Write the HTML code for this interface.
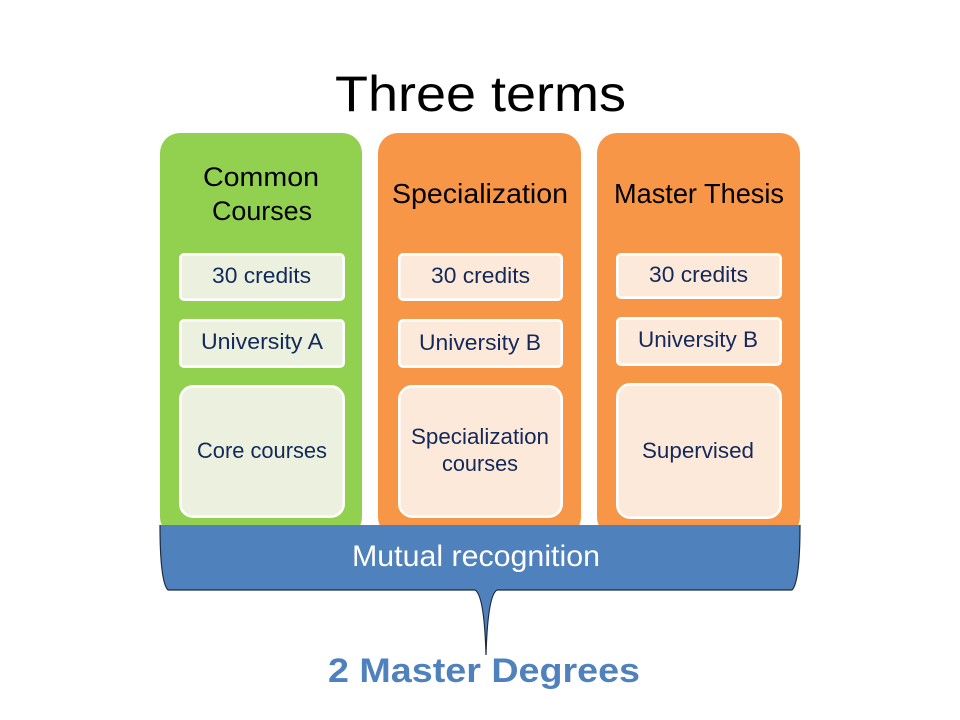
<!DOCTYPE html>
<html>
<head>
<meta charset="utf-8">
<style>
html,body{margin:0;padding:0;background:#fff;}
svg{display:block;}
text{font-family:"Liberation Sans",Arial,sans-serif;}
</style>
</head>
<body>
<svg width="960" height="720" viewBox="0 0 960 720" xmlns="http://www.w3.org/2000/svg">
  <rect x="0" y="0" width="960" height="720" fill="#ffffff"/>

  <!-- Title -->
  <text x="480.5" y="111" font-size="50" text-anchor="middle" fill="#000" textLength="291" lengthAdjust="spacingAndGlyphs">Three terms</text>

  <!-- Columns -->
  <rect x="160" y="133" width="202" height="404" rx="20" ry="20" fill="#92D050"/>
  <rect x="378" y="133" width="203" height="404" rx="20" ry="20" fill="#F79646"/>
  <rect x="597" y="133" width="203" height="404" rx="20" ry="20" fill="#F79646"/>

  <!-- Headers -->
  <text x="261" y="186" font-size="27" text-anchor="middle" fill="#000" textLength="116" lengthAdjust="spacingAndGlyphs">Common</text>
  <text x="262" y="220" font-size="27" text-anchor="middle" fill="#000" textLength="100" lengthAdjust="spacingAndGlyphs">Courses</text>
  <text x="480" y="203" font-size="28" text-anchor="middle" fill="#000" textLength="176" lengthAdjust="spacingAndGlyphs">Specialization</text>
  <text x="699" y="203" font-size="28" text-anchor="middle" fill="#000" textLength="170" lengthAdjust="spacingAndGlyphs">Master Thesis</text>

  <!-- Column 1 inner boxes -->
  <g fill="#EBF1DE" stroke="#ffffff" stroke-width="2.6">
    <rect x="180.3" y="254.3" width="163.4" height="45.4" rx="4"/>
    <rect x="180.3" y="320.3" width="163.4" height="46.4" rx="4"/>
    <rect x="180.3" y="386.3" width="163.4" height="130.4" rx="13"/>
  </g>
  <!-- Column 2 inner boxes -->
  <g fill="#FDE9D9" stroke="#ffffff" stroke-width="2.6">
    <rect x="399.3" y="254.3" width="162.4" height="45.4" rx="4"/>
    <rect x="399.3" y="320.3" width="162.4" height="46.4" rx="4"/>
    <rect x="399.3" y="386.3" width="162.4" height="130.4" rx="13"/>
  </g>
  <!-- Column 3 inner boxes -->
  <g fill="#FDE9D9" stroke="#ffffff" stroke-width="2.6">
    <rect x="617.3" y="254.3" width="163.4" height="43.4" rx="4"/>
    <rect x="617.3" y="318.3" width="163.4" height="46.4" rx="4"/>
    <rect x="617.3" y="384.3" width="163.4" height="133.4" rx="13"/>
  </g>

  <!-- Inner texts -->
  <g fill="#13295A" font-size="22" text-anchor="middle">
    <text x="261.5" y="283" textLength="99" lengthAdjust="spacingAndGlyphs">30 credits</text>
    <text x="262" y="349" textLength="122" lengthAdjust="spacingAndGlyphs">University A</text>
    <text x="262" y="458" textLength="130" lengthAdjust="spacingAndGlyphs">Core courses</text>

    <text x="480.5" y="283" textLength="99" lengthAdjust="spacingAndGlyphs">30 credits</text>
    <text x="480" y="350" textLength="122" lengthAdjust="spacingAndGlyphs">University B</text>
    <text x="480" y="444" textLength="138" lengthAdjust="spacingAndGlyphs">Specialization</text>
    <text x="480" y="471" textLength="76" lengthAdjust="spacingAndGlyphs">courses</text>

    <text x="698.5" y="282" textLength="99" lengthAdjust="spacingAndGlyphs">30 credits</text>
    <text x="698" y="347" textLength="120" lengthAdjust="spacingAndGlyphs">University B</text>
    <text x="698" y="458" textLength="112" lengthAdjust="spacingAndGlyphs">Supervised</text>
  </g>

  <!-- Brace band -->
  <path d="M160,525 L800,525 C800,560 798,584 792,590 L497,590 C490,594 487,620 486,655 C485,620 482,594 475,590 L168,590 C162,584 160,560 160,525 Z" fill="#4F81BD"/>
  <path d="M800,525 C800,560 798,584 792,590 L497,590 C490,594 487,620 486,655 C485,620 482,594 475,590 L168,590 C162,584 160,560 160,525" fill="none" stroke="#1E2B3C" stroke-width="1.2"/>

  <text x="476" y="566" font-size="30" text-anchor="middle" fill="#ffffff" textLength="248" lengthAdjust="spacingAndGlyphs">Mutual recognition</text>

  <text x="484" y="682" font-size="34" font-weight="bold" text-anchor="middle" fill="#4F81BD" textLength="312" lengthAdjust="spacingAndGlyphs">2 Master Degrees</text>
</svg>
</body>
</html>
